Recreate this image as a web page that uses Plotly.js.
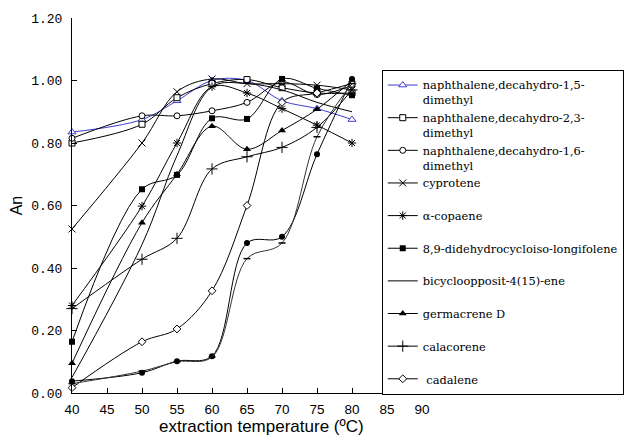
<!DOCTYPE html>
<html>
<head>
<meta charset="utf-8">
<script src="https://cdn.plot.ly/plotly-3.0.1.min.js"></script>
<style>html,body{margin:0;padding:0;background:#fff;}#chart{width:636px;height:441px;}</style>
</head>
<body>
<div id="chart"></div>
<script>
// Extraction temperatures (°C)
const temperature = [40, 50, 55, 60, 65, 70, 75, 80];

// An values
const naphDecahydro15 = [0.835, 0.875, 0.935, 1.000, 1.000, 0.935, 0.910, 0.875];
const naphDecahydro23 = [0.800, 0.860, 0.945, 0.990, 1.003, 0.977, 0.960, 0.960];
const naphDecahydro16 = [0.815, 0.887, 0.887, 0.903, 0.930, 0.995, 0.955, 0.985];
const cyprotene       = [0.525, 0.800, 0.964, 1.005, 0.990, 0.990, 0.985, 0.970];
const alphaCopaene    = [0.280, 0.598, 0.800, 0.980, 0.960, 0.910, 0.857, 0.800];
const didehydroLongifolene = [0.164, 0.652, 0.698, 0.879, 0.877, 1.005, 0.975, 0.953];
const bicycloopposit  = [0.050, 0.475, 0.760, 0.980, 0.990, 0.970, 0.930, 0.900];
const germacreneD     = [0.095, 0.545, 0.700, 0.854, 0.780, 0.840, 0.908, 1.000];
const calacorene      = [0.270, 0.428, 0.495, 0.717, 0.756, 0.786, 0.850, 0.970];
const cadalene        = [0.017, 0.164, 0.205, 0.327, 0.600, 0.930, 0.960, 0.990];
const unlabeledDots   = [0.038, 0.065, 0.102, 0.118, 0.480, 0.500, 0.764, 1.005];
const unlabeledDash   = [0.030, 0.070, 0.100, 0.115, 0.430, 0.480, 0.820, 0.990];

const seriesNames = [
  'naphthalene,decahydro-1,5-<br>dimethyl',
  'naphthalene,decahydro-2,3-<br>dimethyl',
  'naphthalene,decahydro-1,6-<br>dimethyl',
  'cyprotene<br> ',
  'α-copaene<br> ',
  '8,9-didehydrocycloiso-longifolene<br> ',
  'bicycloopposit-4(15)-ene<br> ',
  'germacrene D<br> ',
  'calacorene<br> ',
  ' cadalene'
];

const xTicks = [40, 45, 50, 55, 60, 65, 70, 75, 80, 85, 90];
const yTicks = [0, 0.2, 0.4, 0.6, 0.8, 1.0, 1.2];
const yTickText = ['0.00', '0.20', '0.40', '0.60', '0.80', '1.00', '1.20'];

const BLK = '#000000';
const BLUE = '#3c3cd2';

function tr(name, y, color, marker, extra) {
  return Object.assign({
    type: 'scatter', mode: 'lines+markers', name: name, x: temperature, y: y,
    line: {color: color, width: 1, shape: 'spline', smoothing: 1},
    marker: marker, cliponaxis: false
  }, extra || {});
}

const traces = [
  tr(seriesNames[0], naphDecahydro15, BLUE, {symbol: 'triangle-up', size: 7, color: '#fff', line: {color: BLUE, width: 1}}),
  tr(seriesNames[1], naphDecahydro23, BLK, {symbol: 'square', size: 6, color: '#fff', line: {color: BLK, width: 1}}),
  tr(seriesNames[2], naphDecahydro16, BLK, {symbol: 'circle', size: 6, color: '#fff', line: {color: BLK, width: 1}}),
  tr(seriesNames[3], cyprotene, BLK, {symbol: 'x-thin-open', size: 7, color: BLK, line: {color: BLK, width: 1}}),
  tr(seriesNames[4], alphaCopaene, BLK, {symbol: 'asterisk-open', size: 7, color: BLK, line: {color: BLK, width: 1}}),
  tr(seriesNames[5], didehydroLongifolene, BLK, {symbol: 'square', size: 6, color: BLK}),
  tr(seriesNames[6], bicycloopposit, BLK, {size: 1}, {mode: 'lines'}),
  tr(seriesNames[7], germacreneD, BLK, {symbol: 'triangle-up', size: 7, color: BLK}),
  tr(seriesNames[8], calacorene, BLK, {symbol: 'cross-thin-open', size: 8, color: BLK, line: {color: BLK, width: 1}}),
  tr(seriesNames[9], cadalene, BLK, {symbol: 'diamond', size: 6, color: '#fff', line: {color: BLK, width: 1}}),
  tr('unlabeled dots', unlabeledDots, BLK, {symbol: 'circle', size: 6, color: BLK}, {showlegend: false}),
  tr('unlabeled dash', unlabeledDash, '#333', {symbol: 'line-ew-open', size: 5, color: BLK, line: {color: BLK, width: 1.5}}, {showlegend: false})
];

const layout = {
  width: 636, height: 441,
  margin: {l: 72, r: 207, t: 18, b: 48, pad: 0},
  paper_bgcolor: '#fff', plot_bgcolor: '#fff',
  showlegend: true,
  xaxis: {
    range: [40, 90], tickvals: xTicks, ticks: 'inside', ticklen: 5, tickcolor: BLK,
    showline: true, linecolor: BLK, linewidth: 1, showgrid: false, zeroline: false,
    tickfont: {family: 'Liberation Sans, Arial, sans-serif', size: 13.5, color: BLK},
    ticklabelstandoff: 4
  },
  yaxis: {
    range: [0, 1.2], tickvals: yTicks, ticktext: yTickText, ticks: 'inside', ticklen: 5, tickcolor: BLK,
    showline: true, linecolor: BLK, linewidth: 1, showgrid: false, zeroline: false,
    tickfont: {family: 'Liberation Mono, monospace', size: 13, color: BLK},
    ticklabelstandoff: 6,
    title: {text: 'An', font: {family: 'Liberation Sans, Arial, sans-serif', size: 16, color: BLK}, standoff: 4}
  },
  legend: {
    x: 0.885, y: 0.861, xanchor: 'left', yanchor: 'top',
    bgcolor: '#fff', bordercolor: BLK, borderwidth: 1,
    font: {family: 'DejaVu Serif, serif', size: 11.4, color: BLK},
    valign: 'top', traceorder: 'normal', tracegroupgap: 0
  },
  annotations: [{
    text: 'extraction temperature (ºC)', xref: 'paper', yref: 'paper',
    x: (265 - 72) / 357, y: -(426 - 393) / 375, xanchor: 'center', yanchor: 'middle',
    showarrow: false, font: {family: 'Liberation Sans, Arial, sans-serif', size: 17, color: BLK}
  }]
};

Plotly.newPlot('chart', traces, layout, {displayModeBar: false, staticPlot: true});
</script>
</body>
</html>
